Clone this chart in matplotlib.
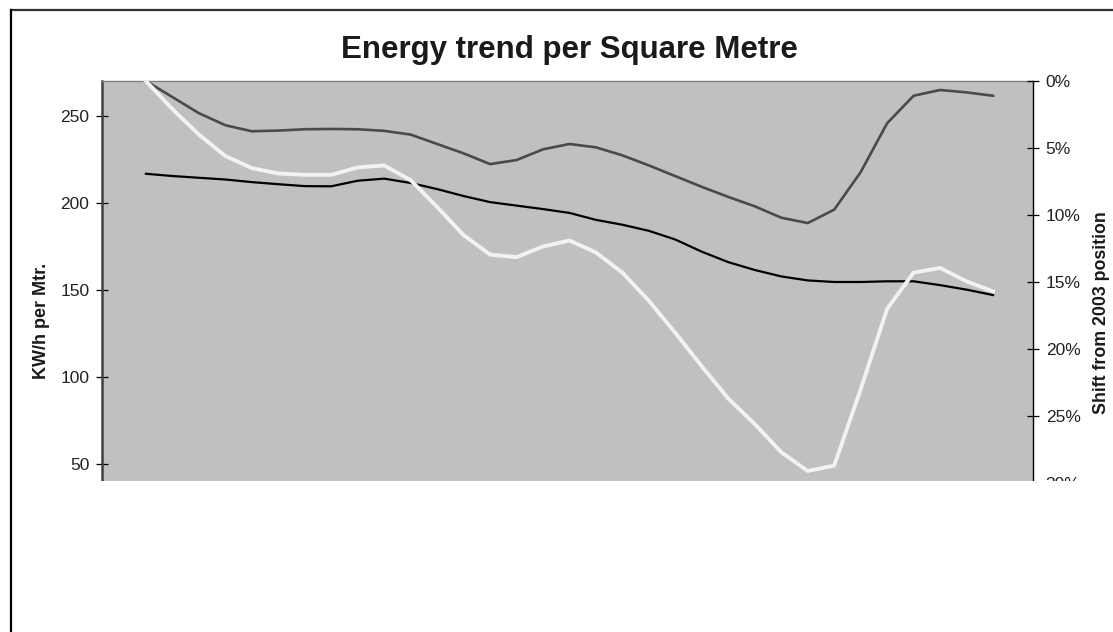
"""Energy trend per square metre, dual axis line chart."""

import matplotlib

matplotlib.use("Agg")
import matplotlib.pyplot as plt
from matplotlib.lines import Line2D
from matplotlib.patches import Rectangle
from matplotlib.ticker import FuncFormatter

plt.rcParams["font.family"] = ["Liberation Sans", "DejaVu Sans"]

# period index (evenly spaced readings along the time axis)
periods = list(range(33))

# KW/h per square metre (left axis)
energy_kwh = [
    216.8, 215.5, 214.5, 213.5, 212.0, 210.8, 209.7, 209.6, 212.8, 214.0,
    211.5, 208.0, 204.0, 200.5, 198.5, 196.5, 194.3, 190.3, 187.5, 184.0,
    179.0, 172.0, 166.0, 161.5, 157.8, 155.5, 154.6, 154.6, 155.0, 155.0,
    152.8, 150.2, 147.1,
]

# shift from 2003 position, percent (right axis)
shift_grey = [
    0.0, 1.2, 2.4, 3.3, 3.75, 3.7, 3.6, 3.58, 3.6, 3.72,
    4.0, 4.7, 5.4, 6.2, 5.9, 5.1, 4.7, 4.95, 5.55, 6.3,
    7.1, 7.9, 8.65, 9.35, 10.2, 10.6, 9.6, 6.8, 3.15, 1.1,
    0.67, 0.85, 1.1,
]
shift_white = [
    0.0, 2.1, 4.0, 5.6, 6.5, 6.9, 7.0, 7.0, 6.45, 6.3,
    7.4, 9.4, 11.5, 12.95, 13.15, 12.35, 11.9, 12.8, 14.3, 16.4,
    18.8, 21.3, 23.7, 25.6, 27.7, 29.1, 28.7, 23.0, 17.0, 14.3,
    13.95, 14.95, 15.7,
]

left_ticks = [50, 100, 150, 200, 250]
right_ticks = [0, 5, 10, 15, 20, 25, 30]

W, H = 1113, 632
fig = plt.figure(figsize=(W / 100, H / 100), dpi=100)
fig.patch.set_facecolor("white")

# plot area: x 102..1033, y 81..490 (bottom part is cut off at y=481)
ax = fig.add_axes([102 / W, 1 - 490 / H, 931 / W, 409 / H])
ax.set_facecolor("#c0c0c0")
ax2 = ax.twinx()

ax.plot(periods, energy_kwh, color="black", lw=1.6, solid_joinstyle="round")
ax2.plot(periods, shift_grey, color="#4a4a4a", lw=1.9, solid_joinstyle="round")
ax2.plot(periods, shift_white, color="#f2f2f2", lw=2.8, solid_joinstyle="round")

ax.set_xlim(-1.66, 33.51)
ax.set_ylim(35.06, 270.11)
ax2.set_ylim(30.52, 0)

ax.set_xticks([])
ax.set_yticks(left_ticks)
ax2.set_yticks(right_ticks)
ax2.yaxis.set_major_formatter(FuncFormatter(lambda v, _: f"{v:.0f}%"))

for a in (ax, ax2):
    a.tick_params(axis="y", direction="inout", length=8.3, width=0.9,
                  pad=5.0, labelsize=12.5, labelcolor="#222222", color="black")

for side in ("right", "bottom"):
    ax.spines[side].set_visible(False)
ax.spines["left"].set_color("#404040")
ax.spines["left"].set_linewidth(1.8)
ax.spines["top"].set_color("#808080")
ax.spines["top"].set_linewidth(1.0)
for side in ("left", "top", "bottom"):
    ax2.spines[side].set_visible(False)
ax2.spines["right"].set_color("black")
ax2.spines["right"].set_linewidth(1.0)

fig.text(569 / W, 1 - 50 / H, "Energy trend per Square Metre", ha="center",
         va="center", fontsize=22.5, fontweight="bold", color="#1a1a1a")
fig.text(42 / W, 1 - 321 / H, "KW/h per Mtr.", rotation=90, ha="center",
         va="center", fontsize=13, fontweight="bold", color="#1a1a1a")
fig.text(1102 / W, 1 - 313 / H, "Shift from 2003 position", rotation=90,
         ha="center", va="center", fontsize=12.8, fontweight="bold",
         color="#1a1a1a")

# the chart is cropped below y=481
fig.patches.append(Rectangle((13 / W, 0), 1 - 13 / W, 1 - 481 / H,
                             transform=fig.transFigure, facecolor="white",
                             edgecolor="none", zorder=10))
fig.lines.append(Line2D([11 / W, 1], [1 - 10 / H, 1 - 10 / H],
                        transform=fig.transFigure, color="#333333", lw=1.6,
                        zorder=11))
fig.lines.append(Line2D([11 / W, 11 / W], [0, 1 - 10 / H],
                        transform=fig.transFigure, color="black", lw=1.6,
                        zorder=11))

fig.savefig("out.png", dpi=100)
